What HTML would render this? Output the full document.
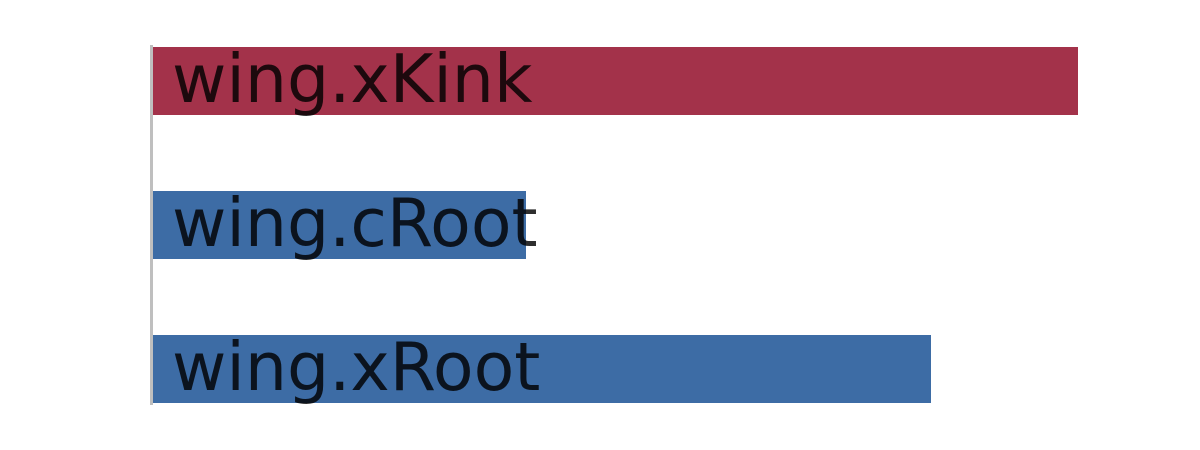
<!DOCTYPE html>
<html><head><meta charset="utf-8"><style>
html,body{margin:0;padding:0;background:#fff;width:1200px;height:450px;overflow:hidden}
</style></head><body>
<svg width="1200" height="450" xmlns="http://www.w3.org/2000/svg">
<rect x="152" y="47" width="926" height="68" fill="#a3324a"/>
<rect x="152" y="191" width="374" height="68" fill="#3d6ca5"/>
<rect x="152" y="335" width="779" height="68" fill="#3d6ca5"/>
<rect x="150" y="45" width="3" height="360" fill="#bfbfbf"/>
<g font-family="DejaVu Sans, Liberation Sans, sans-serif" font-size="66.5" fill="#000" fill-opacity="0.82">
<text x="172" y="102">wing.xKink</text>
<text x="172" y="246">wing.cRoot</text>
<text x="172" y="390">wing.xRoot</text>
</g>
</svg>
</body></html>
